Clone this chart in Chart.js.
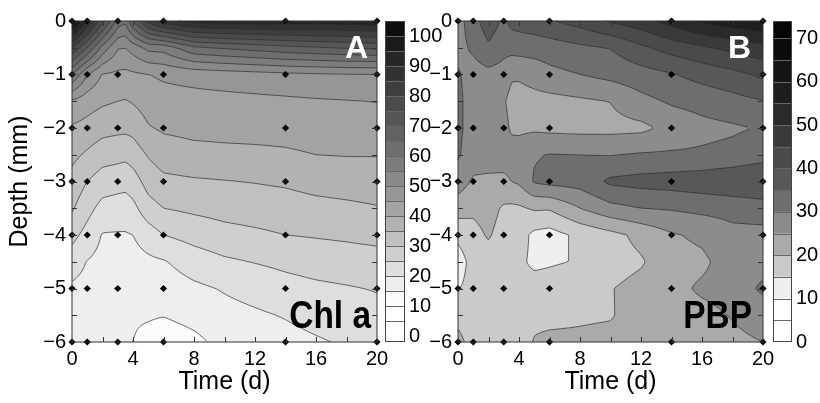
<!DOCTYPE html>
<html>
<head>
<meta charset="utf-8">
<script src="https://cdn.jsdelivr.net/npm/chart.js@4.4.1/dist/chart.umd.min.js"></script>
<style>
  html, body { margin: 0; padding: 0; background: #fff; }
  #wrap { position: relative; width: 820px; height: 403px; overflow: hidden; }
  #wrap canvas { position: absolute; top: 0; }
</style>
</head>
<body>
<div id="wrap">
  <canvas id="chlChart" width="390" height="403" style="left:0"></canvas>
  <canvas id="chlBar" width="70" height="403" style="left:384px"></canvas>
  <canvas id="pbpChart" width="390" height="403" style="left:386px"></canvas>
  <canvas id="pbpBar" width="48" height="403" style="left:772px"></canvas>
</div>
<script>
// grid of the interpolated field (days x depth in mm)
const times = [0, 1, 2, 3, 3.5, 4, 5, 6, 8, 10, 12, 14, 16, 18, 20];
const depths = [0, -0.5, -1, -1.5, -2, -2.5, -3, -3.5, -4, -4.5, -5, -5.5, -6];

// Chl a, one row per depth
const chlRows = [
  [105, 90, 77, 63, 61, 70, 82, 88, 92, 93, 93, 93, 93, 93, 94],
  [80, 70, 58.3, 50.4, 50, 52, 56.5, 56.9, 64, 65.6, 67, 68.5, 69.5, 70.5, 71],
  [60, 50, 44.7, 44, 43.8, 44.2, 44.9, 45.8, 46.7, 47.5, 48.1, 48.8, 49.3, 49.6, 49.7],
  [44.3, 42.2, 40.8, 40, 39.7, 40.4, 42.3, 43, 43.3, 43.5, 43.8, 44.1, 44.5, 44.8, 45.1],
  [39.4, 38.3, 36.7, 36.2, 36.1, 36.5, 39.6, 40.7, 41.3, 41.5, 41.6, 41.8, 42.3, 42.5, 42.6],
  [36.3, 34.2, 32.1, 31.6, 31.2, 32.3, 35.4, 37.5, 38.5, 38.8, 39, 39.3, 40, 40.2, 40.2],
  [33.3, 30, 27.6, 26.9, 26.6, 27.7, 32, 33.8, 34.4, 34.8, 35.2, 35.7, 36.7, 37.2, 37.5],
  [30.6, 26.7, 23.3, 22.8, 22.6, 23.6, 28, 30, 31, 31.8, 32.3, 32.8, 33.5, 34, 34.7],
  [26.6, 23.2, 19.7, 19.6, 19.6, 20, 22.5, 25, 26.8, 28.3, 29.1, 30, 30.4, 30.8, 31.3],
  [22.2, 19.8, 18.5, 18, 18, 18.2, 19, 19.6, 22.4, 24.2, 25.2, 26.2, 27.1, 27.7, 28.2],
  [19.2, 18.6, 17.5, 16.8, 16.5, 16.7, 17.2, 17.4, 19, 20.4, 21.7, 23.1, 24, 24.6, 25.3],
  [17.6, 17.5, 16.8, 15.5, 15.2, 15.5, 15.5, 15.2, 16.6, 18.4, 19.3, 20.3, 21.5, 22.5, 23.5],
  [16, 16.5, 16.3, 15.5, 15.3, 15, 13.5, 12, 13.8, 16.5, 17.5, 18.5, 19.5, 20.5, 21.5]
];

// PBP, one row per depth
const pbpRows = [
  [28, 33, 38, 34, 36.5, 37, 38, 39.5, 42, 45.5, 48, 52, 56, 58, 60],
  [28.5, 30.8, 34.2, 31.5, 31.8, 32, 32.1, 32.5, 34, 35.2, 39, 42, 44.2, 46.5, 48.4],
  [30.5, 28, 28.5, 28, 25.6, 25.7, 27, 28.6, 30, 31.5, 33, 34.6, 36.8, 38.5, 41],
  [31.2, 27.5, 27.5, 25.5, 23.5, 23, 23.3, 23.4, 24.2, 25.1, 28.5, 30.7, 31.8, 33.3, 34.8],
  [31.2, 27.5, 27.5, 26.5, 24.3, 24, 24.2, 23.8, 23.5, 23.5, 23.8, 26.5, 28.5, 29.3, 30.4],
  [30.6, 27, 26.8, 27, 27, 27.5, 29.6, 30.2, 30, 29.8, 30.5, 30.7, 30.8, 31.5, 33],
  [27.5, 24.4, 24.2, 24, 25, 25.8, 30.5, 31.5, 32, 36, 36.8, 37.3, 38, 39, 40],
  [22.3, 20.9, 21.9, 19.3, 19, 19.2, 20.6, 20.5, 25, 28.5, 30, 30.5, 31.3, 31.8, 32.5],
  [16.3, 18.5, 20.5, 18, 17.5, 17.2, 13.8, 13, 16.2, 18.5, 21.3, 24.5, 26, 28.5, 28.5],
  [12.5, 17, 18, 17.5, 17.3, 16, 14, 14.5, 15.3, 18, 19.5, 23, 24, 27.5, 28],
  [14.8, 16.5, 17.5, 17.3, 17.2, 16.5, 17, 17, 18, 19.8, 21.5, 23.5, 25.8, 27, 31],
  [18.4, 17, 17.3, 17.2, 17.2, 17, 19, 18.8, 19.3, 19.6, 22.5, 23, 23.5, 25.3, 27],
  [21.5, 18, 17.5, 17.3, 17.3, 17.5, 20.3, 21, 21, 21.5, 23, 23, 22.5, 24, 25]
];

// sampling positions (black diamonds)
const sampleDays = [0, 1, 3, 6, 14, 20];
const sampleDepths = [0, -1, -2, -3, -4, -5, -6];

// axis ticks
const dayTicks = [0, 4, 8, 12, 16, 20];
const depthTicks = [0, -1, -2, -3, -4, -5, -6];
const dayMinor = [2, 4, 6, 8, 10, 12, 14, 16, 18];
const depthMinor = [-0.5, -1, -1.5, -2, -2.5, -3, -3.5, -4, -4.5, -5, -5.5];

// contour levels and band greys (lowest band first)
const chlLevels = [5, 10, 15, 20, 25, 30, 35, 40, 45, 50, 55, 60, 65, 70, 75, 80, 85, 90, 95, 100];
const chlGrays = [255, 255, 252, 238, 222, 207, 192, 178, 163, 150, 137, 124, 111, 98, 86, 74, 62, 50, 38, 26, 14];
const chlRange = [-2, 105];
const chlBarTicks = [0, 10, 20, 30, 40, 50, 60, 70, 80, 90, 100];

const pbpLevels = [5, 10, 15, 20, 25, 30, 35, 40, 45, 50, 55, 60, 65, 70];
const pbpGrays = [255, 255, 239, 202, 170, 140, 110, 88, 74, 58, 42, 30, 20, 12, 6];
const pbpRange = [0, 74];
const pbpBarTicks = [0, 10, 20, 30, 40, 50, 60, 70];

const FONT = "'Liberation Sans', Arial, Helvetica, sans-serif";

function makeField(rows) {
  return function (t, d) {
    t = Math.min(Math.max(t, times[0]), times[times.length - 1]);
    d = Math.max(Math.min(d, depths[0]), depths[depths.length - 1]);
    let i = 0;
    while (i < times.length - 2 && t > times[i + 1]) i++;
    let j = 0;
    while (j < depths.length - 2 && d < depths[j + 1]) j++;
    const u = (t - times[i]) / (times[i + 1] - times[i]);
    const w = (depths[j] - d) / (depths[j] - depths[j + 1]);
    const r0 = rows[j], r1 = rows[j + 1];
    return (r0[i] * (1 - u) + r0[i + 1] * u) * (1 - w) + (r1[i] * (1 - u) + r1[i + 1] * u) * w;
  };
}

function bandOf(v, levels) {
  let k = 0;
  while (k < levels.length && v >= levels[k]) k++;
  return k;
}

// filled contours + contour lines, sampled through the chart scales
const contourField = {
  id: 'contourField',
  beforeDatasetsDraw(chart, args, opts) {
    if (!opts.rows) return;
    const field = makeField(opts.rows);
    const { ctx, chartArea: a, scales: { x, y } } = chart;
    const x0 = Math.round(a.left), y0 = Math.round(a.top);
    const w = Math.round(a.right) - x0, h = Math.round(a.bottom) - y0;
    const W = w + 1;
    const vals = new Float32Array(W * (h + 1));
    for (let j = 0; j <= h; j++) {
      const d = y.getValueForPixel(y0 + j);
      for (let i = 0; i <= w; i++) vals[j * W + i] = field(x.getValueForPixel(x0 + i), d);
    }
    const img = ctx.createImageData(w, h);
    for (let j = 0; j < h; j++) {
      for (let i = 0; i < w; i++) {
        const v = (vals[j * W + i] + vals[j * W + i + 1] + vals[(j + 1) * W + i] + vals[(j + 1) * W + i + 1]) / 4;
        const g = opts.grays[bandOf(v, opts.levels)];
        const p = (j * w + i) * 4;
        img.data[p] = img.data[p + 1] = img.data[p + 2] = g;
        img.data[p + 3] = 255;
      }
    }
    ctx.putImageData(img, x0, y0);

    // marching squares for the isolines
    const s = 2;
    const V = (i, j) => vals[j * W + i];
    ctx.save();
    ctx.strokeStyle = 'rgba(45,45,45,0.85)';
    ctx.lineWidth = 0.8;
    ctx.beginPath();
    for (let j = 0; j < h; j += s) {
      const j2 = Math.min(j + s, h);
      for (let i = 0; i < w; i += s) {
        const i2 = Math.min(i + s, w);
        const c = [[i, j, V(i, j)], [i2, j, V(i2, j)], [i2, j2, V(i2, j2)], [i, j2, V(i, j2)]];
        const lo = Math.min(c[0][2], c[1][2], c[2][2], c[3][2]);
        const hi = Math.max(c[0][2], c[1][2], c[2][2], c[3][2]);
        for (const L of opts.levels) {
          if (L <= lo || L > hi) continue;
          const pts = [];
          for (let e = 0; e < 4; e++) {
            const p = c[e], q = c[(e + 1) % 4];
            if ((p[2] >= L) !== (q[2] >= L)) {
              const f = (L - p[2]) / (q[2] - p[2]);
              pts.push([x0 + p[0] + (q[0] - p[0]) * f, y0 + p[1] + (q[1] - p[1]) * f]);
            }
          }
          for (let k = 0; k + 1 < pts.length; k += 2) {
            ctx.moveTo(pts[k][0], pts[k][1]);
            ctx.lineTo(pts[k + 1][0], pts[k + 1][1]);
          }
        }
      }
    }
    ctx.stroke();
    ctx.restore();
  }
};

// axes box with inward ticks
const frameTicks = {
  id: 'frameTicks',
  afterDatasetsDraw(chart) {
    const { ctx, chartArea: a, scales: { x, y } } = chart;
    ctx.save();
    ctx.strokeStyle = '#333';
    ctx.lineWidth = 1;
    ctx.beginPath();
    dayMinor.forEach(t => {
      const px = Math.round(x.getPixelForValue(t)) + 0.5;
      ctx.moveTo(px, a.top); ctx.lineTo(px, a.top + 5);
      ctx.moveTo(px, a.bottom); ctx.lineTo(px, a.bottom - 5);
    });
    depthMinor.forEach(d => {
      const py = Math.round(y.getPixelForValue(d)) + 0.5;
      ctx.moveTo(a.left, py); ctx.lineTo(a.left + 5, py);
      ctx.moveTo(a.right, py); ctx.lineTo(a.right - 5, py);
    });
    ctx.stroke();
    ctx.strokeRect(a.left, a.top, a.right - a.left, a.bottom - a.top);
    ctx.restore();
  }
};

// panel letter and variable name
const panelText = {
  id: 'panelText',
  afterDraw(chart, args, opts) {
    if (!opts.tag) return;
    const { ctx, chartArea: a } = chart;
    ctx.save();
    ctx.textAlign = 'right';
    ctx.textBaseline = 'alphabetic';
    ctx.font = 'bold 32px ' + FONT;
    ctx.fillStyle = '#fff';
    ctx.fillText(opts.tag, a.right - opts.tagRight, a.top + 37);
    ctx.translate(a.right - opts.nameRight, a.bottom - 14);
    ctx.scale(0.88, 1);
    ctx.font = 'bold 38px ' + FONT;
    ctx.fillStyle = '#000';
    ctx.fillText(opts.name, 0, 0);
    ctx.restore();
  }
};

// colour bar band separators and outline
const barFrame = {
  id: 'barFrame',
  afterDatasetsDraw(chart, args, opts) {
    if (!opts.levels) return;
    const { ctx, chartArea: a, scales: { y } } = chart;
    ctx.save();
    ctx.strokeStyle = '#666';
    ctx.lineWidth = 1;
    ctx.beginPath();
    opts.levels.forEach(L => {
      const py = Math.round(y.getPixelForValue(L)) + 0.5;
      ctx.moveTo(a.left, py); ctx.lineTo(a.right, py);
    });
    ctx.stroke();
    ctx.strokeStyle = '#444';
    ctx.strokeRect(a.left + 0.5, a.top + 0.5, a.right - a.left - 1, a.bottom - a.top - 1);
    ctx.restore();
  }
};

const samplePoints = [];
sampleDays.forEach(t => sampleDepths.forEach(d => samplePoints.push({ x: t, y: d })));

const minusLabel = v => (v === 0 ? '0' : '\u2212' + Math.abs(v));

function panelChart(id, rows, levels, grays, tag, name, tagRight, nameRight, showDepthTitle) {
  return new Chart(document.getElementById(id), {
    type: 'scatter',
    data: {
      datasets: [{
        data: samplePoints,
        pointStyle: 'rectRot',
        pointRadius: 3.6,
        backgroundColor: '#000',
        borderColor: '#000',
        borderWidth: 0,
        clip: false
      }]
    },
    options: {
      responsive: false,
      animation: false,
      events: [],
      layout: { padding: { top: 21, right: 13, bottom: 0, left: 0 } },
      plugins: {
        legend: { display: false },
        tooltip: { enabled: false },
        contourField: { rows, levels, grays },
        panelText: { tag, name, tagRight, nameRight }
      },
      scales: {
        x: {
          type: 'linear', min: 0, max: 20,
          afterBuildTicks: s => { s.ticks = dayTicks.map(v => ({ value: v })); },
          afterFit: s => { s.height = 61; s.paddingLeft = 0; s.paddingRight = 0; },
          grid: { display: false, drawTicks: false },
          border: { display: false },
          ticks: { color: '#000', padding: 5, maxRotation: 0, font: { family: FONT, size: 20 } },
          title: { display: true, text: 'Time (d)', color: '#000', font: { family: FONT, size: 25 }, padding: { top: 0, bottom: 6 } }
        },
        y: {
          type: 'linear', min: -6, max: 0,
          afterBuildTicks: s => { s.ticks = depthTicks.map(v => ({ value: v })); },
          afterFit: s => { s.width = 72; s.paddingTop = 0; s.paddingBottom = 0; },
          grid: { display: false, drawTicks: false },
          border: { display: false },
          ticks: { color: '#000', padding: 6, callback: minusLabel, font: { family: FONT, size: 20 } },
          title: { display: showDepthTitle, text: 'Depth (mm)', color: '#000', font: { family: FONT, size: 25 }, padding: { top: 5, bottom: 0 } }
        }
      }
    },
    plugins: [contourField, frameTicks, panelText]
  });
}

function colourBar(id, levels, grays, range, ticks, axisWidth) {
  const edges = [range[0]].concat(levels, [range[1]]);
  const datasets = grays.map((g, k) => ({
    data: [[edges[k], edges[k + 1]]],
    backgroundColor: 'rgb(' + g + ',' + g + ',' + g + ')',
    borderWidth: 0,
    barPercentage: 1,
    categoryPercentage: 1,
    grouped: false
  }));
  return new Chart(document.getElementById(id), {
    type: 'bar',
    data: { labels: [''], datasets },
    options: {
      responsive: false,
      animation: false,
      events: [],
      layout: { padding: { top: 21, right: 0, bottom: 61, left: 1 } },
      plugins: { legend: { display: false }, tooltip: { enabled: false }, barFrame: { levels } },
      scales: {
        x: { display: false },
        y: {
          position: 'right', min: range[0], max: range[1],
          afterBuildTicks: s => { s.ticks = ticks.map(v => ({ value: v })); },
          afterFit: s => { s.width = axisWidth; s.paddingTop = 0; s.paddingBottom = 0; },
          grid: { display: false, drawTicks: false },
          border: { display: false },
          ticks: { color: '#000', padding: 4, font: { family: FONT, size: 20 } }
        }
      }
    },
    plugins: [barFrame]
  });
}

panelChart('chlChart', chlRows, chlLevels, chlGrays, 'A', 'Chl a', 9, 6, true);
colourBar('chlBar', chlLevels, chlGrays, chlRange, chlBarTicks, 49);
panelChart('pbpChart', pbpRows, pbpLevels, pbpGrays, 'B', 'PBP', 12, 11, false);
colourBar('pbpBar', pbpLevels, pbpGrays, pbpRange, pbpBarTicks, 28);
</script>
</body>
</html>
